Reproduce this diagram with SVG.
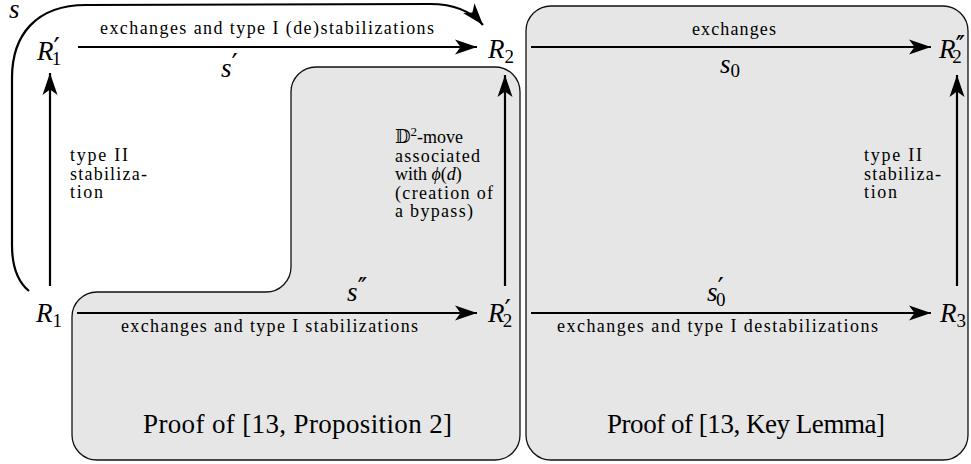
<svg xmlns="http://www.w3.org/2000/svg" width="971" height="464" viewBox="0 0 971 464">
<style>
text{font-family:"Liberation Serif","DejaVu Serif",serif;fill:#000}
.m{font-size:27px}
.i{font-style:italic}
.sub{font-size:19px;font-style:normal}
.pr{font-family:"DejaVu Sans",sans-serif;font-size:28px;font-style:normal}
.lab{font-size:18px}
.big{font-size:27px}
.region{fill:#e6e6e6;stroke:#111;stroke-width:1.3}
.edge{fill:none;stroke:#000;stroke-width:2.2}
</style>
<defs>
<marker id="ah" markerUnits="userSpaceOnUse" viewBox="-23 -10 25 20" refX="0" refY="0" markerWidth="25" markerHeight="20" orient="auto">
<path d="M0,0 L-22,-7.5 L-16.5,0 L-22,7.5 Z" fill="#000"/>
</marker>
</defs>

<g id="region-proposition2">
<path class="region" d="M97,292 L266,292 A25,25 0 0 0 291,267 L291,92 A25,25 0 0 1 316,67 L495,67 A25,25 0 0 1 520,92 L520,435 A25,25 0 0 1 495,460 L97,460 A25,25 0 0 1 72,435 L72,317 A25,25 0 0 1 97,292 Z"/>
<text class="big" x="143" y="433" textLength="309" lengthAdjust="spacing">Proof of [13, Proposition 2]</text>
</g>
<g id="region-keylemma">
<rect class="region" x="526" y="6" width="442" height="454" rx="25" ry="25"/>
<text class="big" x="607" y="433" textLength="278" lengthAdjust="spacing">Proof of [13, Key Lemma]</text>
</g>

<g id="connectors">
<path class="edge" d="M29,291 C18,282 12,268 12,245 L12,78 C12,35 36,5 86,5 L430,4 C455,4 472,12 483,25" marker-end="url(#ah)"/>
<text class="m i" x="9" y="18">s</text>

<path class="edge" d="M78,47 L477,47" marker-end="url(#ah)"/>
<text class="lab" x="100" y="34" textLength="334" lengthAdjust="spacing">exchanges and type I (de)stabilizations</text>
<text class="m" x="221" y="77"><tspan class="i">s</tspan><tspan class="pr" dx="0" dy="-3">′</tspan></text>

<path class="edge" d="M531,47 L931,47" marker-end="url(#ah)"/>
<text class="lab" x="692" y="35" textLength="84" lengthAdjust="spacing">exchanges</text>
<text class="m" x="720" y="73"><tspan class="i">s</tspan><tspan class="sub" dy="4">0</tspan></text>

<path class="edge" d="M77,313 L477,313" marker-end="url(#ah)"/>
<text class="lab" x="121" y="332" textLength="297" lengthAdjust="spacing">exchanges and type I stabilizations</text>
<text class="m" x="347" y="301"><tspan class="i">s</tspan><tspan class="pr" dx="0" dy="-3">′</tspan><tspan class="pr" dx="-3">′</tspan></text>

<path class="edge" d="M531,313 L931,313" marker-end="url(#ah)"/>
<text class="lab" x="557" y="332" textLength="321" lengthAdjust="spacing">exchanges and type I destabilizations</text>
<text class="m" x="707" y="301"><tspan class="i">s</tspan><tspan class="pr" dx="0" dy="-3">′</tspan><tspan class="sub" dx="-8" dy="8">0</tspan></text>

<path class="edge" d="M50,286 L50,73" marker-end="url(#ah)"/>
<text class="lab" x="70" y="161" textLength="58" lengthAdjust="spacing">type II</text>
<text class="lab" x="70" y="179.5" textLength="77" lengthAdjust="spacing">stabiliza-</text>
<text class="lab" x="70" y="198" textLength="33" lengthAdjust="spacing">tion</text>

<path class="edge" d="M505,286 L505,75" marker-end="url(#ah)"/>
<text class="lab" x="395" y="143">𝔻<tspan dy="-7" font-size="13">2</tspan><tspan dy="7">-move</tspan></text>
<text class="lab" x="395" y="161.5" textLength="85" lengthAdjust="spacing">associated</text>
<text class="lab" x="395" y="180">with <tspan class="i">ϕ</tspan>(<tspan class="i">d</tspan>)</text>
<text class="lab" x="395" y="198.5" textLength="98" lengthAdjust="spacing">(creation of</text>
<text class="lab" x="395" y="217" textLength="78" lengthAdjust="spacing">a bypass)</text>

<path class="edge" d="M957,286 L957,75" marker-end="url(#ah)"/>
<text class="lab" x="864" y="161" textLength="58" lengthAdjust="spacing">type II</text>
<text class="lab" x="864" y="179.5" textLength="77" lengthAdjust="spacing">stabiliza-</text>
<text class="lab" x="864" y="198" textLength="33" lengthAdjust="spacing">tion</text>
</g>

<g id="node-R1p">
<text class="m" x="37" y="60"><tspan class="i">R</tspan><tspan class="pr" dx="0" dy="-2">′</tspan><tspan class="sub" dx="-8" dy="7">1</tspan></text>
</g>
<g id="node-R2">
<text class="m" x="488" y="58"><tspan class="i">R</tspan><tspan class="sub" dy="5">2</tspan></text>
</g>
<g id="node-R2pp">
<text class="m" x="939" y="58"><tspan class="i">R</tspan><tspan class="pr" dx="0" dy="-2">′</tspan><tspan class="pr" dx="-3">′</tspan><tspan class="sub" dx="-13" dy="7">2</tspan></text>
</g>
<g id="node-R1">
<text class="m" x="36" y="322"><tspan class="i">R</tspan><tspan class="sub" dy="5">1</tspan></text>
</g>
<g id="node-R2p">
<text class="m" x="488" y="322"><tspan class="i">R</tspan><tspan class="pr" dx="0" dy="-2">′</tspan><tspan class="sub" dx="-8" dy="7">2</tspan></text>
</g>
<g id="node-R3">
<text class="m" x="940" y="322"><tspan class="i">R</tspan><tspan class="sub" dy="5">3</tspan></text>
</g>
</svg>
